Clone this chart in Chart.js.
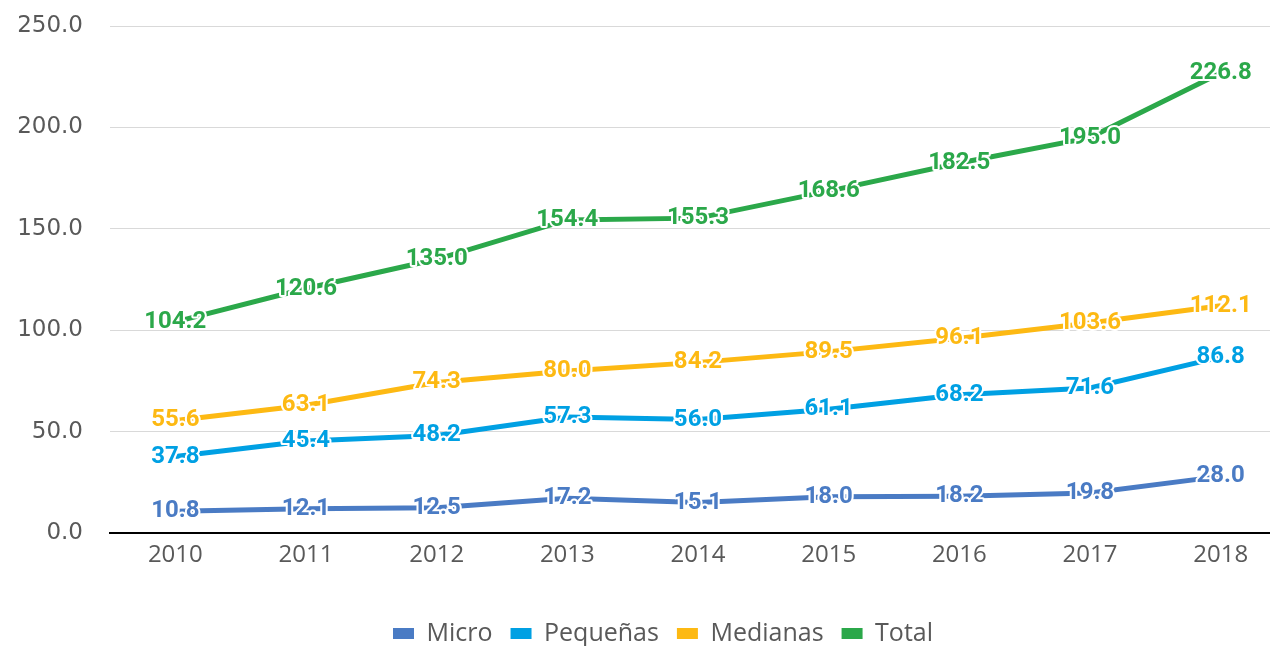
<!DOCTYPE html>
<html>
<head>
<meta charset="utf-8">
<script src="https://cdn.jsdelivr.net/npm/chart.js@4.4.1/dist/chart.umd.min.js"></script>
<style>
  html, body { margin: 0; padding: 0; background: #fff; overflow: hidden; }
  #wrap { position: relative; width: 1286px; height: 646px; }
</style>
</head>
<body>
<div id="wrap"><canvas id="pymes-chart"></canvas></div>
<script>
// Values
const years = ['2010', '2011', '2012', '2013', '2014', '2015', '2016', '2017', '2018'];
const micro = [10.8, 12.1, 12.5, 17.2, 15.1, 18.0, 18.2, 19.8, 28.0];
const pequenas = [37.8, 45.4, 48.2, 57.3, 56.0, 61.1, 68.2, 71.6, 86.8];
const medianas = [55.6, 63.1, 74.3, 80.0, 84.2, 89.5, 96.1, 103.6, 112.1];
const total = [104.2, 120.6, 135.0, 154.4, 155.3, 168.6, 182.5, 195.0, 226.8];
const yTicks = [0, 50, 100, 150, 200, 250];

const colors = {
    micro: '#4a7bc4',
    pequenas: '#00a0e3',
    medianas: '#fdb913',
    total: '#2ba84a'
};

// Bold value labels centred on each point, with a white halo like the original
const valueLabels = {
    id: 'valueLabels',
    afterDatasetsDraw(chart) {
        const ctx = chart.ctx;
        ctx.save();
        ctx.font = 'bold 24px Roboto';
        ctx.textAlign = 'center';
        ctx.textBaseline = 'middle';
        ctx.lineJoin = 'round';
        ctx.lineWidth = 4;
        chart.data.datasets.forEach((ds, i) => {
            const meta = chart.getDatasetMeta(i);
            meta.data.forEach((pt, j) => {
                const txt = ds.data[j].toFixed(1);
                ctx.strokeStyle = '#fff';
                ctx.strokeText(txt, pt.x, pt.y);
                ctx.fillStyle = ds.borderColor;
                ctx.fillText(txt, pt.x, pt.y);
            });
        });
        ctx.restore();
    }
};

// The legend in the original sits a bit right of the canvas centre
const legendShift = {
    id: 'legendShift',
    afterLayout(chart) {
        if (chart.legend) {
            chart.legend.left += 20;
            chart.legend.right += 20;
        }
    }
};

function makeLine(label, data, color) {
    return {
        label: label,
        data: data,
        borderColor: color,
        backgroundColor: color,
        borderWidth: 5,
        pointRadius: 0,
        tension: 0,
        fill: false
    };
}

new Chart(document.getElementById('pymes-chart'), {
    type: 'line',
    data: {
        labels: years,
        datasets: [
            makeLine('Micro', micro, colors.micro),
            makeLine('Pequeñas', pequenas, colors.pequenas),
            makeLine('Medianas', medianas, colors.medianas),
            makeLine('Total', total, colors.total)
        ]
    },
    options: {
        responsive: true,
        maintainAspectRatio: false,
        animation: false,
        layout: { padding: { top: 0, right: 0, bottom: -10, left: 0 } },
        plugins: {
            tooltip: { enabled: false },
            legend: {
                position: 'bottom',
                labels: {
                    boxWidth: 21,
                    boxHeight: 11,
                    padding: 18,
                    color: '#595959',
                    font: { family: 'Open Sans', size: 25 },
                    generateLabels(chart) {
                        return chart.data.datasets.map((ds, i) => ({
                            text: ds.label,
                            fillStyle: ds.borderColor,
                            strokeStyle: ds.borderColor,
                            lineWidth: 0,
                            fontColor: '#595959',
                            datasetIndex: i
                        }));
                    }
                }
            }
        },
        scales: {
            x: {
                offset: true,
                afterFit(scale) {
                    scale.height += 25;
                },
                grid: { display: false, drawTicks: false },
                border: { display: true, color: '#000', width: 2 },
                ticks: {
                    padding: 8,
                    color: '#595959',
                    font: { family: 'Open Sans', size: 24 }
                }
            },
            y: {
                min: 0,
                max: 250,
                afterBuildTicks(scale) {
                    scale.ticks = yTicks.map(v => ({ value: v }));
                },
                afterFit(scale) {
                    scale.width = 110;
                    scale.paddingTop = 26;
                    scale.paddingBottom = 0;
                },
                grid: { color: '#d9d9d9', lineWidth: 1, drawTicks: false },
                border: { display: false },
                ticks: {
                    padding: 27,
                    color: '#595959',
                    font: { family: 'DejaVu Sans', size: 23 },
                    callback: v => Number(v).toFixed(1)
                }
            }
        }
    },
    plugins: [valueLabels, legendShift]
});
</script>
</body>
</html>
